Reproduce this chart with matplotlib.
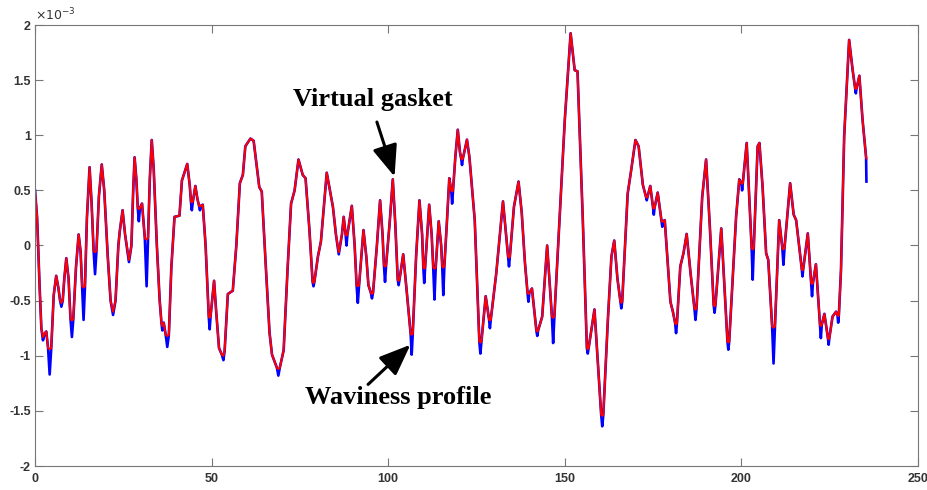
import numpy as np
import matplotlib.pyplot as plt

# waviness profile, sampled positions and heights (heights in units of 1e-3)
prof_x = [
    0.0, 0.6, 1.3, 1.8, 2.26, 2.7, 3.19, 3.7, 4.15, 4.6,
    5.3, 6.0, 6.6, 7.1, 7.47, 7.85, 8.3, 8.86, 9.5, 10.05,
    10.45, 10.85, 11.6, 12.35, 12.9, 13.35, 13.75, 14.15, 14.7, 15.45,
    16.0, 16.6, 17.0, 17.4, 18.1, 18.9, 19.6, 20.6, 21.4, 22.1,
    22.8, 23.6, 24.0, 24.8, 25.5, 26.6, 27.3, 27.8, 28.2, 28.7,
    29.1, 29.4, 29.7, 30.3, 31.1, 31.6, 32.0, 32.5, 33.05, 33.6,
    34.5, 35.3, 35.8, 36.05, 36.45, 37.0, 37.45, 37.9, 38.6, 39.5,
    40.9, 41.6, 43.1, 43.8, 44.15, 44.4, 44.7, 45.4, 46.0, 46.45,
    46.7, 46.95, 47.5, 48.3, 49.0, 49.2, 49.45, 49.7, 50.7, 51.3,
    52.1, 52.9, 53.35, 53.7, 54.6, 56.0, 57.0, 58.0, 58.85, 59.55,
    61.0, 61.9, 63.5, 64.2, 65.4, 66.4, 67.1, 68.5, 68.9, 69.3,
    70.4, 71.5, 72.5, 73.5, 74.6, 75.8, 76.6, 77.7, 78.6, 78.85,
    79.1, 80.1, 80.95, 82.6, 84.35, 85.2, 86.0, 86.9, 87.4, 87.95,
    88.2, 88.45, 89.7, 90.5, 91.05, 91.4, 91.75, 93.0, 93.8, 94.4,
    95.1, 95.4, 95.7, 96.8, 97.7, 98.4, 98.8, 99.1, 99.4, 100.4,
    101.3, 102.0, 102.7, 102.95, 103.2, 104.25, 105.2, 106.35, 106.65, 106.95,
    107.9, 108.85, 109.6, 109.95, 110.2, 110.45, 111.6, 112.3, 112.75, 113.1,
    113.45, 114.3, 115.0, 115.3, 115.6, 115.9, 116.6, 117.3, 117.85, 118.1,
    118.35, 119.0, 119.7, 120.3, 120.65, 120.9, 121.15, 122.3, 123.0, 124.5,
    125.2, 125.8, 126.1, 126.4, 127.6, 128.55, 128.8, 129.05, 130.6, 132.5,
    133.95, 134.2, 134.45, 135.6, 136.9, 137.8, 138.7, 139.45, 139.7, 139.95,
    140.7, 141.95, 142.2, 142.45, 143.6, 145.0, 146.35, 146.7, 147.05, 148.5,
    150.0, 151.65, 152.8, 153.6, 155.1, 156.25, 156.5, 156.75, 158.4, 160.3,
    160.6, 160.9, 162.2, 163.2, 164.0, 164.9, 165.75, 166.0, 166.25, 167.8,
    168.8, 170.0, 170.9, 172.1, 173.0, 173.2, 173.4, 174.2, 175.0, 175.2,
    175.4, 176.3, 177.4, 177.6, 177.8, 178.3, 179.9, 180.6, 181.25, 181.5,
    181.75, 182.7, 183.6, 184.5, 185.6, 186.7, 187.0, 187.3, 188.9, 190.0,
    191.1, 192.15, 192.4, 192.65, 194.3, 196.05, 196.3, 196.55, 198.5, 199.4,
    200.0, 200.2, 200.4, 201.5, 202.9, 203.2, 203.5, 204.6, 205.1, 206.0,
    207.0, 207.6, 208.7, 209.1, 209.5, 210.7, 211.6, 211.9, 212.2, 213.8,
    214.8, 215.5, 217.1, 217.3, 217.5, 218.8, 219.75, 220.0, 220.25, 221.1,
    222.25, 222.5, 222.75, 223.5, 224.5, 224.7, 224.9, 225.8, 226.8, 227.2,
    227.4, 227.6, 228.2, 229.1, 230.5, 231.5, 232.2, 232.4, 232.6, 233.4,
    234.3, 235.3, 235.4,
]
wave_y = [
    0.50, 0.25, -0.37, -0.75, -0.86, -0.80, -0.78, -0.93, -1.17, -0.93,
    -0.45, -0.275, -0.38, -0.50, -0.555, -0.50, -0.30, -0.115, -0.30, -0.665,
    -0.83, -0.665, -0.20, 0.10, -0.05, -0.37, -0.675, -0.37, 0.25, 0.71,
    0.40, -0.05, -0.26, -0.05, 0.45, 0.735, 0.50, -0.10, -0.50, -0.63,
    -0.50, 0.00, 0.13, 0.32, 0.10, -0.15, 0.00, 0.50, 0.80, 0.60,
    0.34, 0.22, 0.34, 0.38, 0.065, -0.37, 0.065, 0.60, 0.957, 0.70,
    0.00, -0.50, -0.70, -0.77, -0.70, -0.81, -0.92, -0.81, -0.20, 0.26,
    0.27, 0.59, 0.74, 0.55, 0.40, 0.32, 0.40, 0.54, 0.42, 0.36,
    0.32, 0.36, 0.37, 0.00, -0.50, -0.645, -0.76, -0.645, -0.32, -0.60,
    -0.93, -0.99, -1.04, -0.95, -0.44, -0.41, 0.00, 0.565, 0.64, 0.90,
    0.97, 0.95, 0.53, 0.49, -0.22, -0.79, -0.99, -1.11, -1.18, -1.11,
    -0.95, -0.22, 0.38, 0.50, 0.78, 0.64, 0.61, 0.14, -0.33, -0.37,
    -0.33, -0.10, 0.035, 0.66, 0.35, 0.10, -0.08, 0.10, 0.26, 0.10,
    0.00, 0.10, 0.36, 0.00, -0.36, -0.52, -0.36, 0.14, -0.10, -0.36,
    -0.43, -0.48, -0.43, 0.00, 0.41, 0.10, -0.18, -0.33, -0.18, 0.20,
    0.60, 0.20, -0.31, -0.36, -0.31, -0.08, -0.40, -0.80, -0.99, -0.80,
    -0.10, 0.41, 0.10, -0.20, -0.34, -0.20, 0.37, 0.10, -0.20, -0.49,
    -0.20, 0.22, 0.00, -0.19, -0.45, -0.19, 0.20, 0.61, 0.50, 0.38,
    0.50, 0.80, 1.05, 0.85, 0.79, 0.73, 0.79, 0.96, 0.80, 0.23,
    -0.37, -0.87, -0.98, -0.87, -0.46, -0.67, -0.75, -0.67, -0.25, 0.40,
    -0.10, -0.19, -0.10, 0.35, 0.58, 0.30, -0.15, -0.43, -0.51, -0.43,
    -0.39, -0.77, -0.82, -0.77, -0.645, 0.00, -0.645, -0.885, -0.645, 0.23,
    1.14, 1.925, 1.59, 1.58, 0.23, -0.93, -0.98, -0.93, -0.58, -1.535,
    -1.64, -1.535, -0.67, -0.10, 0.045, -0.30, -0.51, -0.57, -0.51, 0.47,
    0.685, 0.957, 0.90, 0.55, 0.44, 0.41, 0.44, 0.54, 0.34, 0.28,
    0.34, 0.48, 0.22, 0.17, 0.22, 0.23, -0.51, -0.60, -0.705, -0.795,
    -0.705, -0.19, -0.07, 0.105, -0.25, -0.57, -0.675, -0.57, 0.44, 0.78,
    0.15, -0.54, -0.61, -0.54, 0.155, -0.87, -0.945, -0.87, 0.26, 0.60,
    0.565, 0.50, 0.565, 0.93, -0.025, -0.31, -0.025, 0.90, 0.93, 0.53,
    -0.07, -0.13, -0.735, -1.07, -0.735, 0.23, -0.025, -0.175, -0.025, 0.565,
    0.28, 0.23, -0.215, -0.28, -0.215, 0.11, -0.34, -0.46, -0.34, -0.17,
    -0.72, -0.84, -0.72, -0.62, -0.84, -0.90, -0.84, -0.645, -0.60, -0.63,
    -0.70, -0.63, -0.22, 0.99, 1.865, 1.59, 1.425, 1.38, 1.425, 1.54,
    1.14, 0.80, 0.58,
]

# virtual gasket bridges the valleys: its height at each valley bottom
gasket_x = [
    2.26, 4.15, 7.47, 10.45, 13.75, 17.0, 22.1, 26.6, 29.4, 31.6,
    36.05, 37.45, 44.4, 46.7, 49.45, 53.35, 68.9, 78.85, 86.0, 88.2,
    91.4, 95.4, 99.1, 102.95, 106.65, 110.2, 113.1, 115.6, 118.1, 120.9,
    126.1, 128.8, 134.2, 139.7, 142.2, 146.7, 156.5, 160.6, 166.0, 173.2,
    175.2, 177.6, 181.5, 187.0, 192.4, 196.3, 200.2, 203.2, 209.1, 211.9,
    217.3, 220.0, 222.5, 224.7, 227.4, 232.4, 235.4,
]
gasket_y = [
    -0.83, -0.94, -0.52, -0.68, -0.38, -0.06, -0.60, -0.13, 0.33, 0.055,
    -0.73, -0.82, 0.39, 0.355, -0.655, -1.0, -1.12, -0.34, -0.06, 0.09,
    -0.37, -0.44, -0.19, -0.32, -0.81, -0.21, -0.21, -0.20, 0.49, 0.78,
    -0.88, -0.68, -0.11, -0.44, -0.78, -0.655, -0.94, -1.545, -0.52, 0.435,
    0.335, 0.215, -0.715, -0.58, -0.55, -0.88, 0.56, -0.035, -0.745, -0.035,
    -0.225, -0.35, -0.73, -0.85, -0.64, 1.42, 0.79,
]

y_ticks = [-2, -1.5, -1, -0.5, 0, 0.5, 1, 1.5, 2]
y_labels = ['-2', '-1.5', '-1', '-0.5', '0', '0.5', '1', '1.5', '2']
x_ticks = [0, 50, 100, 150, 200, 250]

x = np.array(prof_x)
wave = np.array(wave_y) * 1e-3
gasket = wave.copy()
for gx, gy in zip(gasket_x, gasket_y):
    gasket[np.abs(x - gx).argmin()] = gy * 1e-3

fig = plt.figure(figsize=(9.28, 4.90), dpi=100)
ax = fig.add_axes([35 / 928, 24 / 490, 883 / 928, 441 / 490])

ax.plot(x, wave, color=(0, 0, 1), lw=1.9, solid_joinstyle='round')
ax.plot(x, gasket, color=(1, 0, 0), lw=1.5, solid_joinstyle='round')

ax.set_xlim(0, 250)
ax.set_ylim(-2e-3, 2e-3)
ax.set_xticks(x_ticks)
ax.set_xticklabels([str(t) for t in x_ticks])
ax.set_yticks(np.array(y_ticks) * 1e-3)
ax.set_yticklabels(y_labels)

axis_col = '#777777'
for s in ax.spines.values():
    s.set_color(axis_col)
    s.set_linewidth(0.8)
ax.tick_params(direction='in', length=6, width=0.8, color=axis_col,
               top=True, right=True, labelsize=9, labelcolor='#333333')
ax.tick_params(axis='y', pad=3)
ax.tick_params(axis='x', pad=5)
for lab in ax.get_xticklabels() + ax.get_yticklabels():
    lab.set_fontfamily('Liberation Sans')
    lab.set_fontweight('bold')

ax.text(0.0, 1.004, r'$\times10^{-3}$', transform=ax.transAxes,
        ha='left', va='bottom', fontsize=9, color='#333333',
        family='Liberation Sans')

# annotations
arrow = dict(arrowstyle='-|>,head_length=0.6,head_width=0.24',
             color='black', lw=2.2, mutation_scale=32, shrinkA=0, shrinkB=0)
ax.annotate('', xy=(101.8, 0.625e-3), xytext=(96.8, 1.12e-3), arrowprops=arrow)
ax.text(95.6, 1.32e-3, 'Virtual gasket', ha='center', va='center',
        fontsize=19, fontweight='bold', family='Liberation Serif')

ax.annotate('', xy=(106.3, -0.90e-3), xytext=(94.3, -1.26e-3), arrowprops=arrow)
ax.text(102.9, -1.38e-3, 'Waviness profile', ha='center', va='center',
        fontsize=19, fontweight='bold', family='Liberation Serif')

fig.savefig('out.png', dpi=100)
